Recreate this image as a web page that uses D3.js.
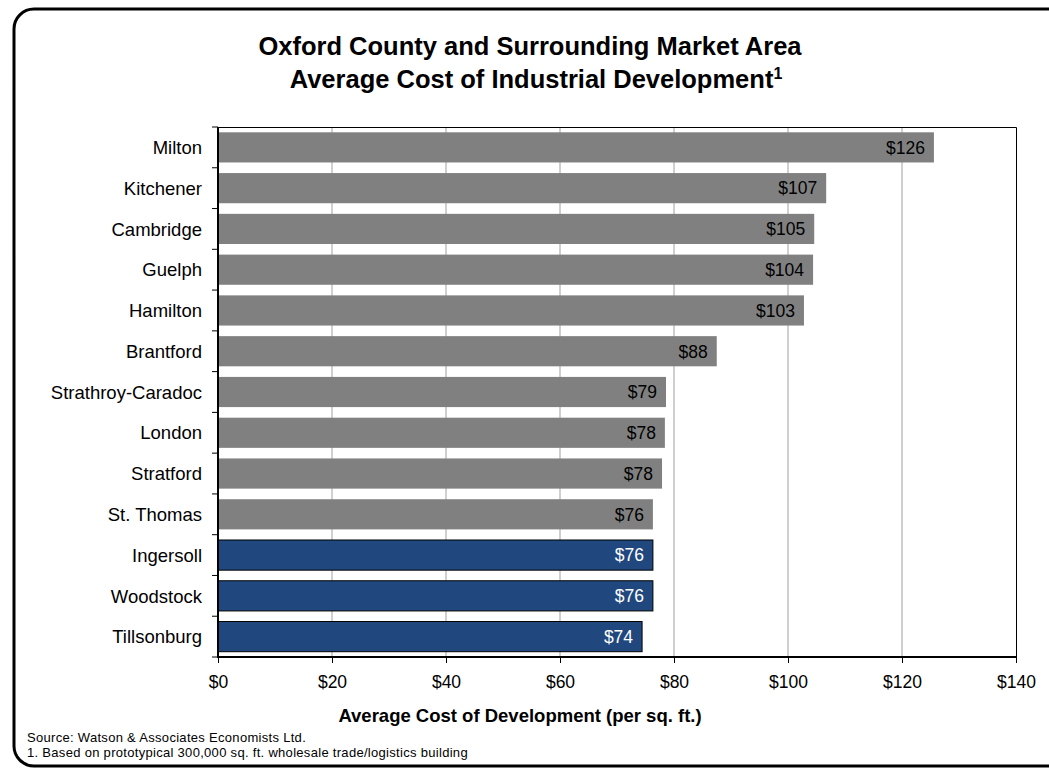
<!DOCTYPE html>
<html>
<head>
<meta charset="utf-8">
<script src="https://cdn.jsdelivr.net/npm/d3@7"></script>
<style>
  html, body { margin: 0; padding: 0; background: #fff; }
  svg { display: block; font-family: "Liberation Sans", Arial, sans-serif; }
</style>
</head>
<body>
<svg id="chart" width="1049" height="769"></svg>
<script>
const categories = ["Milton", "Kitchener", "Cambridge", "Guelph", "Hamilton", "Brantford",
  "Strathroy-Caradoc", "London", "Stratford", "St. Thomas", "Ingersoll", "Woodstock", "Tillsonburg"];
const costs = [125.6, 106.7, 104.6, 104.4, 102.8, 87.5, 78.6, 78.4, 77.9, 76.3, 76.3, 76.3, 74.4];
const oxfordCounty = ["Ingersoll", "Woodstock", "Tillsonburg"];
const xTicks = [0, 20, 40, 60, 80, 100, 120, 140];
const titleLines = ["Oxford County and Surrounding Market Area", "Average Cost of Industrial Development"];
const axisTitle = "Average Cost of Development (per sq. ft.)";
const notes = ["Source: Watson & Associates Economists Ltd.",
  "1. Based on prototypical 300,000 sq. ft. wholesale trade/logistics building"];

const svg = d3.select("#chart");
const m = { left: 218, right: 1016, top: 127, bottom: 657 };

// outer rounded frame
svg.append("rect")
  .attr("x", 14).attr("y", 9).attr("width", 1080).attr("height", 757)
  .attr("rx", 20).attr("ry", 20)
  .attr("fill", "none").attr("stroke", "#000").attr("stroke-width", 3);

const x = d3.scaleLinear().domain([0, 140]).range([m.left, m.right]);
const y = d3.scaleBand().domain(categories).range([m.top, m.bottom])
  .paddingInner(0.26).paddingOuter(0.13);

// gridlines
svg.append("g").selectAll("line").data(xTicks.slice(1, -1)).join("line")
  .attr("x1", d => x(d)).attr("x2", d => x(d))
  .attr("y1", m.top).attr("y2", m.bottom)
  .attr("stroke", "#a0a0a0").attr("stroke-width", 1);

// plot frame top/right
svg.append("path")
  .attr("d", `M${m.left},${m.top + 0.5}H${m.right + 0.5}V${m.bottom}`)
  .attr("fill", "none").attr("stroke", "#000").attr("stroke-width", 1);

const data = categories.map((c, i) => ({ c, v: costs[i], hi: oxfordCounty.includes(c) }));

// bars
svg.append("g").selectAll("rect").data(data).join("rect")
  .attr("x", x(0))
  .attr("y", d => y(d.c))
  .attr("width", d => x(d.v) - x(0))
  .attr("height", y.bandwidth())
  .attr("fill", d => d.hi ? "#21487e" : "#808080")
  .attr("stroke", d => d.hi ? "#000" : "none")
  .attr("stroke-width", 1);

// value labels
svg.append("g").selectAll("text").data(data).join("text")
  .attr("x", d => x(d.v) - 9)
  .attr("y", d => y(d.c) + y.bandwidth() / 2)
  .attr("dy", "0.36em")
  .attr("text-anchor", "end")
  .attr("font-size", 17.5)
  .attr("fill", d => d.hi ? "#fff" : "#000")
  .text(d => "$" + Math.round(d.v));

// y axis
const yAxis = svg.append("g").attr("transform", `translate(${m.left},0)`);
yAxis.append("line").attr("x1", 0).attr("x2", 0).attr("y1", m.top).attr("y2", m.bottom + 1)
  .attr("stroke", "#000").attr("stroke-width", 2);
yAxis.selectAll("line.tick").data(d3.range(categories.length + 1)).join("line")
  .attr("class", "tick")
  .attr("x1", -6).attr("x2", 0)
  .attr("y1", i => m.top + i * (m.bottom - m.top) / categories.length)
  .attr("y2", i => m.top + i * (m.bottom - m.top) / categories.length)
  .attr("stroke", "#000").attr("stroke-width", 1);
yAxis.selectAll("text").data(categories).join("text")
  .attr("x", -16)
  .attr("y", d => y(d) + y.bandwidth() / 2)
  .attr("dy", "0.36em")
  .attr("text-anchor", "end")
  .attr("font-size", 18.5)
  .attr("fill", "#000")
  .text(d => d);

// x axis
const xAxis = svg.append("g").attr("transform", `translate(0,${m.bottom})`)
  .call(d3.axisBottom(x).tickValues(xTicks).tickSize(6).tickFormat(d => "$" + d));
xAxis.select(".domain").attr("stroke", "#000").attr("stroke-width", 2)
  .attr("d", `M${m.left},0H${m.right + 1}`);
xAxis.selectAll(".tick line").attr("stroke", "#000");
xAxis.selectAll(".tick text").attr("font-size", 17.5).attr("font-family", "Liberation Sans, Arial, sans-serif")
  .attr("fill", "#000").attr("y", 19).attr("dy", "0.71em");

svg.append("text")
  .attr("x", 520).attr("y", 722)
  .attr("text-anchor", "middle").attr("font-size", 18.5).attr("font-weight", "bold")
  .text(axisTitle);

// title
svg.append("text").attr("x", 530).attr("y", 55)
  .attr("text-anchor", "middle").attr("font-size", 25.5).attr("font-weight", "bold")
  .text(titleLines[0]);
const t2 = svg.append("text").attr("x", 536).attr("y", 88)
  .attr("text-anchor", "middle").attr("font-size", 25.5).attr("font-weight", "bold");
t2.append("tspan").text(titleLines[1]);
t2.append("tspan").attr("font-size", 16).attr("dy", -9).text("1");

// notes
svg.append("g").selectAll("text").data(notes).join("text")
  .attr("x", 27).attr("y", (d, i) => 742 + i * 15)
  .attr("font-size", 13).attr("letter-spacing", 0.3).attr("fill", "#000")
  .text(d => d);
</script>
</body>
</html>
